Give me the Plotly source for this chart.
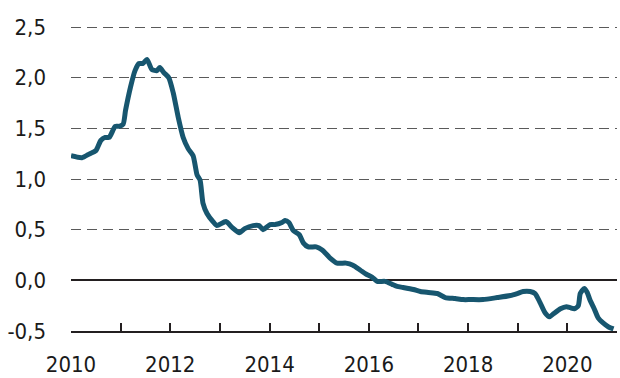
import plotly.graph_objects as go

# Decimal-year positions and index values (%)
years = [
    2010.00, 2010.22, 2010.38, 2010.50, 2010.60, 2010.69, 2010.77, 2010.89, 2010.97,
    2011.05, 2011.10, 2011.20, 2011.29, 2011.37, 2011.45, 2011.53, 2011.63, 2011.73,
    2011.79, 2011.87, 2011.97, 2012.06, 2012.16, 2012.26, 2012.36, 2012.46, 2012.54,
    2012.60, 2012.66, 2012.74, 2012.86, 2012.94, 2013.12, 2013.25, 2013.39, 2013.50,
    2013.67, 2013.79, 2013.87, 2014.01, 2014.11, 2014.25, 2014.31, 2014.39, 2014.48,
    2014.60, 2014.68, 2014.78, 2014.94, 2015.06, 2015.22, 2015.36, 2015.54, 2015.68,
    2015.83, 2015.95, 2016.07, 2016.17, 2016.33, 2016.47, 2016.57, 2016.69, 2016.90,
    2017.04, 2017.20, 2017.38, 2017.54, 2017.74, 2017.90, 2018.05, 2018.30, 2018.59,
    2018.85, 2018.99, 2019.11, 2019.25, 2019.35, 2019.45, 2019.55, 2019.64, 2019.72,
    2019.86, 2019.98, 2020.06, 2020.14, 2020.22, 2020.26, 2020.34, 2020.40, 2020.46,
    2020.54, 2020.62, 2020.72, 2020.83, 2020.93,
]
values = [
    1.23, 1.21, 1.25, 1.28, 1.38, 1.41, 1.41, 1.52, 1.52,
    1.54, 1.68, 1.91, 2.07, 2.14, 2.14, 2.18, 2.08, 2.07,
    2.10, 2.05, 2.00, 1.85, 1.61, 1.41, 1.30, 1.23, 1.04,
    0.99, 0.76, 0.66, 0.58, 0.54, 0.58, 0.52, 0.47, 0.51,
    0.54, 0.54, 0.50, 0.55, 0.55, 0.57, 0.59, 0.57, 0.49,
    0.45, 0.37, 0.33, 0.33, 0.30, 0.22, 0.17, 0.17, 0.15,
    0.10, 0.06, 0.03, -0.01, -0.01, -0.04, -0.06, -0.07, -0.09,
    -0.11, -0.12, -0.13, -0.17, -0.18, -0.19, -0.19, -0.19, -0.17,
    -0.15, -0.13, -0.11, -0.11, -0.13, -0.22, -0.32, -0.36, -0.33,
    -0.28, -0.26, -0.27, -0.28, -0.25, -0.13, -0.08, -0.12, -0.20,
    -0.28, -0.37, -0.42, -0.46, -0.48,
]

x_ticks = list(range(2010, 2022))
x_labels = [str(y) if y % 2 == 0 and y < 2021 else "" for y in x_ticks]
y_ticks = [-0.5, 0.0, 0.5, 1.0, 1.5, 2.0, 2.5]
y_labels = ["-0,5", "0,0", "0,5", "1,0", "1,5", "2,0", "2,5"]

FONT = "DejaVu Sans Condensed, sans-serif"

fig = go.Figure(
    go.Scatter(
        x=years, y=values, mode="lines",
        line=dict(color="#17566f", width=5, shape="spline", smoothing=0.6),
        hoverinfo="skip",
    )
)

fig.update_layout(
    width=620, height=378,
    margin=dict(l=71, r=3, t=26, b=47),
    paper_bgcolor="white", plot_bgcolor="white",
    showlegend=False,
    font=dict(family=FONT, size=22, color="#1a1a1a"),
)

fig.update_xaxes(
    range=[2010, 2021],
    tickvals=x_ticks, ticktext=x_labels,
    ticks="inside", ticklen=8, tickwidth=1.5, tickcolor="#231f20",
    showline=True, linecolor="#231f20", linewidth=1.5,
    showgrid=False, zeroline=False,
    ticklabelstandoff=13, automargin=False,
)

fig.update_yaxes(
    range=[-0.5, 2.51],
    tickvals=y_ticks, ticktext=y_labels,
    ticks="", showline=False,
    showgrid=True, gridcolor="#5a5a5a", gridwidth=1.2, griddash="10px,6px",
    zeroline=True, zerolinecolor="#231f20", zerolinewidth=2.2,
    ticklabelstandoff=24, automargin=False,
)

fig.write_html("out.html")
